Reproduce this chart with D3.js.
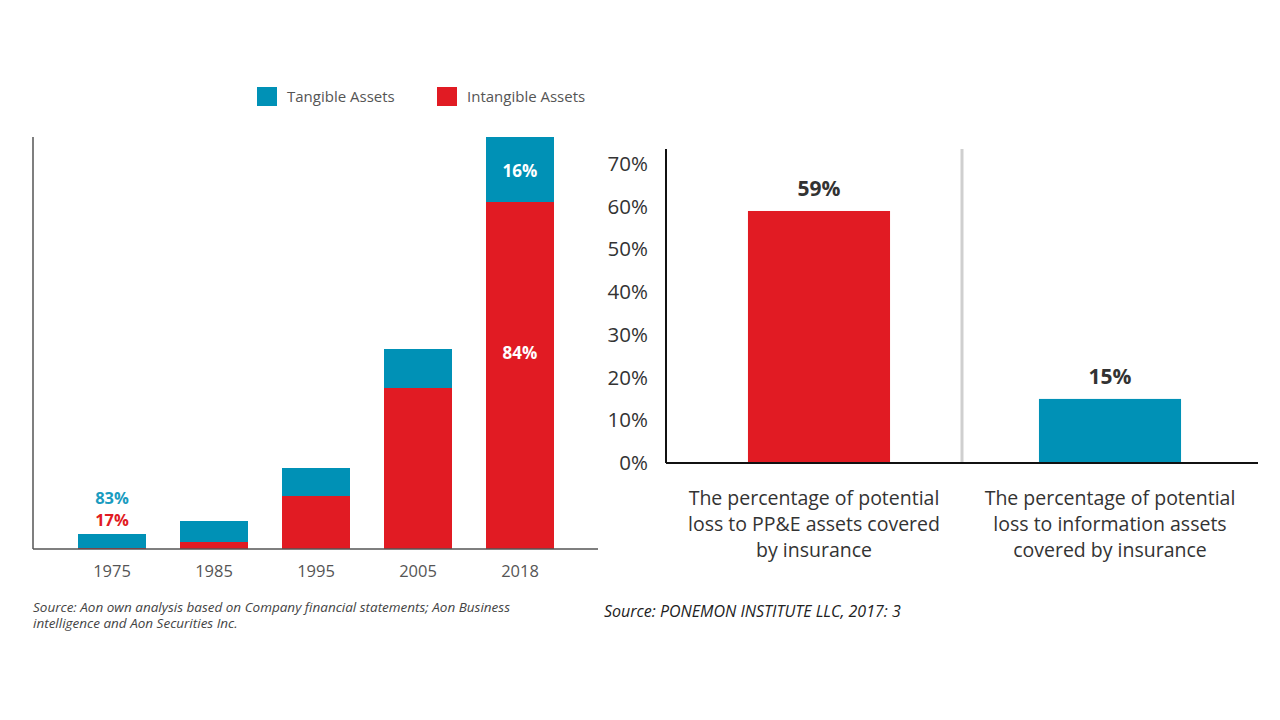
<!DOCTYPE html>
<html>
<head>
<meta charset="UTF-8">
<title>Tangible vs Intangible Assets</title>
<script src="https://d3js.org/d3.v7.min.js"></script>
<style>
  body { margin: 0; background: #fff; }
  text { font-family: "Open Sans", "Noto Sans", sans-serif; }
</style>
</head>
<body>
<svg class="chart"></svg>
<script>
// left chart data (relative asset value)
const years = ["1975", "1985", "1995", "2005", "2018"];
const tangible = [14, 21, 28, 39, 65];
const intangible = [1, 7, 53, 161, 347];
const seriesNames = ["Tangible Assets", "Intangible Assets"];

// right chart data
const coverCats = [
  ["The percentage of potential", "loss to PP&E assets covered", "by insurance"],
  ["The percentage of potential", "loss to information assets", "covered by insurance"]
];
const coverValues = [59, 15];
const coverTicks = [0, 10, 20, 30, 40, 50, 60, 70];

const BLUE = "#0091b6";
const RED = "#e11b23";

const svg = d3.select(".chart")
    .attr("width", 1280)
    .attr("height", 720);

// ---------- left chart ----------
const left = {x0: 33, x1: 598, top: 137, base: 549};

const xL = d3.scaleBand()
    .domain(years)
    .range([61, 571])
    .paddingInner(1 / 3)
    .paddingOuter(1 / 6);

const yL = d3.scaleLinear()
    .domain([0, d3.max(years, (d, i) => tangible[i] + intangible[i])])
    .range([left.base, left.top]);

const rows = years.map((y, i) => ({year: y, tangible: tangible[i], intangible: intangible[i]}));
const stacked = d3.stack().keys(["intangible", "tangible"])(rows);

const gL = svg.append("g");

gL.selectAll("g.layer")
    .data(stacked).enter().append("g")
    .attr("class", "layer")
    .attr("fill", (d) => d.key === "tangible" ? BLUE : RED)
    .selectAll("rect")
    .data((d) => d).enter().append("rect")
    .attr("x", (d) => xL(d.data.year))
    .attr("width", xL.bandwidth())
    .attr("y", (d) => yL(d[1]))
    .attr("height", (d) => yL(d[0]) - yL(d[1]));

// axes lines
gL.append("line")
    .attr("x1", left.x0).attr("x2", left.x0)
    .attr("y1", left.top).attr("y2", left.base)
    .attr("stroke", "#555").attr("stroke-width", 1.5);
gL.append("line")
    .attr("x1", left.x0).attr("x2", left.x1)
    .attr("y1", left.base).attr("y2", left.base)
    .attr("stroke", "#555").attr("stroke-width", 1.5);

const axL = gL.append("g")
    .attr("transform", `translate(0, ${left.base})`)
    .call(d3.axisBottom(xL).tickSize(0).tickPadding(16));
axL.select(".domain").remove();
axL.selectAll("text")
    .attr("font-size", 16.5)
    .attr("fill", "#555")
    .attr("font-family", "'Open Sans', sans-serif");

// percentage labels
const first = rows[0], last = rows[rows.length - 1];
const cx0 = xL(first.year) + xL.bandwidth() / 2;
const cxN = xL(last.year) + xL.bandwidth() / 2;

gL.append("text")
    .attr("x", cx0).attr("y", yL(first.tangible + first.intangible) - 30)
    .attr("text-anchor", "middle").attr("font-size", 16.5).attr("font-weight", "bold")
    .attr("fill", "#1a9cc0").text("83%");
gL.append("text")
    .attr("x", cx0).attr("y", yL(first.tangible + first.intangible) - 8)
    .attr("text-anchor", "middle").attr("font-size", 16.5).attr("font-weight", "bold")
    .attr("fill", RED).text("17%");
gL.append("text")
    .attr("x", cxN).attr("y", (yL(last.tangible + last.intangible) + yL(last.intangible)) / 2 + 7)
    .attr("text-anchor", "middle").attr("font-size", 17).attr("font-weight", "bold")
    .attr("fill", "#fff").text("16%");
gL.append("text")
    .attr("x", cxN).attr("y", 359)
    .attr("text-anchor", "middle").attr("font-size", 17).attr("font-weight", "bold")
    .attr("fill", "#fff").text("84%");

// legend
const legend = svg.append("g").attr("transform", "translate(257, 87)");
seriesNames.forEach((name, i) => {
    const g = legend.append("g").attr("transform", `translate(${i * 180}, 0)`);
    g.append("rect").attr("width", 20).attr("height", 19)
        .attr("fill", i === 0 ? BLUE : RED);
    g.append("text").attr("x", 30).attr("y", 15)
        .attr("font-size", 15).attr("fill", "#555").text(name);
});

// source
const srcL = svg.append("text")
    .attr("x", 33).attr("y", 612)
    .attr("font-size", 13.5).attr("font-style", "italic").attr("fill", "#444");
srcL.append("tspan").attr("x", 33)
    .text("Source: Aon own analysis based on Company financial statements; Aon Business");
srcL.append("tspan").attr("x", 33).attr("dy", 16)
    .text("intelligence and Aon Securities Inc.");

// ---------- right chart ----------
const right = {x0: 666, x1: 1258, top: 149, base: 463};

const xR = d3.scaleBand()
    .domain(d3.range(coverValues.length))
    .range([right.x0, right.x1]);

const yR = d3.scaleLinear()
    .domain([0, 70])
    .range([right.base, 164]);

const gR = svg.append("g");

// divider
gR.append("line")
    .attr("x1", xR(1)).attr("x2", xR(1))
    .attr("y1", right.top).attr("y2", right.base)
    .attr("stroke", "#cfcfcf").attr("stroke-width", 3);

const barW = xR.bandwidth() * 0.48;
const barOff = [5, 0];
gR.selectAll("rect.bar")
    .data(coverValues).enter().append("rect")
    .attr("class", "bar")
    .attr("x", (d, i) => xR(i) + (xR.bandwidth() - barW) / 2 + barOff[i])
    .attr("width", barW)
    .attr("y", (d) => yR(d))
    .attr("height", (d) => right.base - yR(d))
    .attr("fill", (d, i) => i === 0 ? RED : BLUE);

gR.selectAll("text.val")
    .data(coverValues).enter().append("text")
    .attr("class", "val")
    .attr("x", (d, i) => xR(i) + xR.bandwidth() / 2 + barOff[i])
    .attr("y", (d) => yR(d) - 15)
    .attr("text-anchor", "middle").attr("font-size", 21).attr("font-weight", "bold")
    .attr("fill", "#333")
    .text((d) => d + "%");

const ayR = gR.append("g")
    .attr("transform", `translate(${right.x0}, 0)`)
    .call(d3.axisLeft(yR).tickValues(coverTicks).tickSize(0).tickPadding(18)
        .tickFormat((d) => d + "%"));
ayR.select(".domain").remove();
ayR.selectAll("text")
    .attr("font-size", 20.5).attr("fill", "#333")
    .attr("font-family", "'Open Sans', sans-serif");

gR.append("line")
    .attr("x1", right.x0).attr("x2", right.x0)
    .attr("y1", right.top).attr("y2", right.base)
    .attr("stroke", "#111").attr("stroke-width", 2);
gR.append("line")
    .attr("x1", right.x0).attr("x2", right.x1)
    .attr("y1", right.base).attr("y2", right.base)
    .attr("stroke", "#111").attr("stroke-width", 2);

// category labels
coverCats.forEach((lines, i) => {
    const t = gR.append("text")
        .attr("text-anchor", "middle").attr("font-size", 19.5).attr("fill", "#333");
    lines.forEach((ln, j) => {
        t.append("tspan")
            .attr("x", xR(i) + xR.bandwidth() / 2)
            .attr("y", 505 + j * 26)
            .text(ln);
    });
});

svg.append("text")
    .attr("x", 604).attr("y", 617)
    .attr("font-size", 16).attr("font-style", "italic").attr("fill", "#222")
    .text("Source: PONEMON INSTITUTE LLC, 2017: 3");
</script>
</body>
</html>
